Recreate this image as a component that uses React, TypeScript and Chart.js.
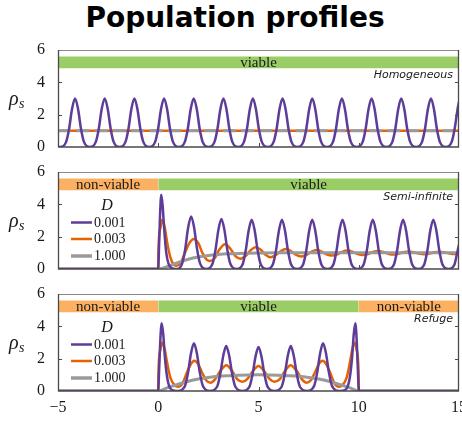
import React, { useEffect, useRef } from 'react';
import { Chart, registerables } from 'chart.js';

Chart.register(...registerables);

// ---------- shared axis values ----------
const X_MIN = -5;
const X_MAX = 15;
const Y_MIN = 0;
const Y_MAX = 6;
const X_TICKS = [-5, 0, 5, 10, 15];
const Y_TICKS = [0, 2, 4, 6];
const BAND_LOW = 4.87;
const BAND_HIGH = 5.6;
const LEGEND_TITLE = 'D';
const LEGEND_LABELS = ['0.001', '0.003', '1.000'];

// ---------- panel 1 : Homogeneous ----------
const homPurpleX = [
  -5, -4.89, -4.6, -4.45, -4.3, -4.15, -4.0, -3.85, -3.7, -3.41,
  -3.12, -2.97, -2.82, -2.67, -2.52, -2.37, -2.22, -1.93,
  -1.64, -1.49, -1.34, -1.19, -1.04, -0.89, -0.74, -0.45,
  -0.16, -0.01, 0.14, 0.29, 0.44, 0.59, 0.74, 1.03,
  1.32, 1.47, 1.62, 1.77, 1.92, 2.07, 2.22, 2.51,
  2.8, 2.95, 3.1, 3.25, 3.4, 3.55, 3.7, 3.99,
  4.27, 4.42, 4.57, 4.72, 4.87, 5.02, 5.17, 5.46,
  5.75, 5.9, 6.05, 6.2, 6.35, 6.5, 6.65, 6.94,
  7.23, 7.38, 7.53, 7.68, 7.83, 7.98, 8.13, 8.42,
  8.71, 8.86, 9.01, 9.16, 9.31, 9.46, 9.61, 9.9,
  10.19, 10.34, 10.49, 10.64, 10.79, 10.94, 11.09, 11.38,
  11.67, 11.82, 11.97, 12.12, 12.27, 12.42, 12.57, 12.86,
  13.15, 13.3, 13.45, 13.6, 13.75, 13.9, 14.05, 14.34,
  14.63, 14.78, 14.93, 15,
];
const homPurpleY = [
  0.02, 0, 0.3, 1.1, 2.35, 3, 2.35, 1.1, 0.3, 0,
  0.3, 1.1, 2.35, 3, 2.35, 1.1, 0.3, 0,
  0.3, 1.1, 2.35, 3, 2.35, 1.1, 0.3, 0,
  0.3, 1.1, 2.35, 3, 2.35, 1.1, 0.3, 0,
  0.3, 1.1, 2.35, 3, 2.35, 1.1, 0.3, 0,
  0.3, 1.1, 2.35, 3, 2.35, 1.1, 0.3, 0,
  0.3, 1.1, 2.35, 3, 2.35, 1.1, 0.3, 0,
  0.3, 1.1, 2.35, 3, 2.35, 1.1, 0.3, 0,
  0.3, 1.1, 2.35, 3, 2.35, 1.1, 0.3, 0,
  0.3, 1.1, 2.35, 3, 2.35, 1.1, 0.3, 0,
  0.3, 1.1, 2.35, 3, 2.35, 1.1, 0.3, 0,
  0.3, 1.1, 2.35, 3, 2.35, 1.1, 0.3, 0,
  0.3, 1.1, 2.35, 3, 2.35, 1.1, 0.3, 0,
  0.3, 1.1, 2.35, 2.8,
];
const homOrangeX = [-5, 15];
const homOrangeY = [1, 1];
const homGrayX = [-5, 15];
const homGrayY = [1, 1];
const homBandFrom = [-5];
const homBandTo = [15];
const homBandLabel = ['viable'];

// ---------- panel 2 : Semi-infinite ----------
const semiPurpleX = [
  -5, 0, 0.02, 0.08, 0.15, 0.22, 0.3, 0.4, 0.52, 0.75, 0.95,
  1.19, 1.34, 1.49, 1.64, 1.79, 1.94, 2.09, 2.4,
  2.7, 2.85, 3.0, 3.15, 3.3, 3.45, 3.6, 3.91,
  4.21, 4.36, 4.51, 4.66, 4.81, 4.96, 5.11, 5.42,
  5.72, 5.87, 6.02, 6.17, 6.32, 6.47, 6.62, 6.93,
  7.23, 7.38, 7.53, 7.68, 7.83, 7.98, 8.13, 8.44,
  8.74, 8.89, 9.04, 9.19, 9.34, 9.49, 9.64, 9.95,
  10.25, 10.4, 10.55, 10.7, 10.85, 11.0, 11.15, 11.46,
  11.76, 11.91, 12.06, 12.21, 12.36, 12.51, 12.66, 12.97,
  13.27, 13.42, 13.57, 13.72, 13.87, 14.02, 14.17, 14.48,
  14.78, 14.93, 15,
];
const semiPurpleY = [
  0, 0, 0.6, 3.0, 4.6, 3.9, 2.4, 1.0, 0.3, 0.02, 0,
  0.33, 1.2, 2.55, 3.25, 2.55, 1.2, 0.33, 0,
  0.31, 1.15, 2.42, 3.1, 2.42, 1.15, 0.31, 0,
  0.3, 1.13, 2.38, 3.05, 2.38, 1.13, 0.3, 0,
  0.3, 1.13, 2.38, 3.05, 2.38, 1.13, 0.3, 0,
  0.3, 1.13, 2.38, 3.05, 2.38, 1.13, 0.3, 0,
  0.3, 1.13, 2.38, 3.05, 2.38, 1.13, 0.3, 0,
  0.3, 1.13, 2.38, 3.05, 2.38, 1.13, 0.3, 0,
  0.3, 1.13, 2.38, 3.05, 2.38, 1.13, 0.3, 0,
  0.3, 1.13, 2.38, 3.05, 2.38, 1.13, 0.3, 0,
  0.3, 1.13, 1.5,
];
const semiOrangeX = [
  -5, 0, 0.005, 0.1, 0.2, 0.32, 0.45, 0.6, 0.75, 0.9,
  1.1, 1.35, 1.55, 1.77, 2.0, 2.2, 2.4, 2.58,
  2.8, 3.05, 3.33, 3.6, 3.85, 4.1,
  4.35, 4.6, 4.85, 5.1, 5.35, 5.6,
  5.85, 6.1, 6.37, 6.63, 6.88, 7.13,
  7.4, 7.65, 7.9, 8.15, 8.4, 8.66,
  8.92, 9.17, 9.43, 9.7, 9.95, 10.2,
  10.45, 10.7, 10.96, 11.22, 11.47, 11.72,
  11.98, 12.23, 12.49, 12.75, 13.0, 13.25,
  13.5, 13.76, 14.02, 14.28, 14.53, 14.78, 15,
];
const semiOrangeY = [
  0, 0, 0.9, 2.5, 3.04, 2.6, 1.6, 0.75, 0.3, 0.2,
  0.35, 1.05, 1.6, 1.86, 1.6, 1.0, 0.6, 0.5,
  0.65, 1.2, 1.53, 1.25, 0.8, 0.63,
  0.8, 1.15, 1.35, 1.2, 0.88, 0.72,
  0.85, 1.1, 1.24, 1.1, 0.87, 0.78,
  0.88, 1.08, 1.18, 1.08, 0.9, 0.83,
  0.9, 1.06, 1.14, 1.06, 0.92, 0.86,
  0.92, 1.05, 1.11, 1.05, 0.94, 0.89,
  0.94, 1.04, 1.09, 1.04, 0.95, 0.91,
  0.95, 1.03, 1.07, 1.03, 0.96, 0.93, 0.96,
];
const semiGrayX = [-5, 0, 0.25, 0.5, 0.75, 1.0, 1.5, 2.0, 2.5, 3.0, 3.5, 4.0, 5.0, 6.0, 15];
const semiGrayY = [0, 0, 0.06, 0.17, 0.29, 0.41, 0.6, 0.74, 0.84, 0.9, 0.94, 0.965, 0.99, 1.0, 1.0];
const semiBandFrom = [-5, 0];
const semiBandTo = [0, 15];
const semiBandLabel = ['non-viable', 'viable'];

// ---------- panel 3 : Refuge ----------
const refPurpleX = [
  -5, 0, 0.02, 0.09, 0.17, 0.25, 0.33, 0.45, 0.58, 0.8, 0.97,
  1.33, 1.48, 1.63, 1.78, 1.93, 2.08, 2.23, 2.58,
  2.94, 3.09, 3.24, 3.39, 3.54, 3.69, 3.84, 4.2,
  4.55, 4.7, 4.85, 5.0, 5.15, 5.3, 5.45, 5.8,
  6.16, 6.31, 6.46, 6.61, 6.76, 6.91, 7.06, 7.42,
  7.77, 7.92, 8.07, 8.22, 8.37, 8.52, 8.67, 9.03,
  9.2, 9.42, 9.55, 9.67, 9.75, 9.83, 9.91, 9.98, 10, 15,
];
const refPurpleY = [
  0, 0, 0.5, 2.8, 4.19, 3.5, 2.1, 0.8, 0.2, 0.02, 0,
  0.3, 1.09, 2.3, 2.95, 2.3, 1.09, 0.3, 0,
  0.28, 1.03, 2.17, 2.78, 2.17, 1.03, 0.28, 0,
  0.27, 1.0, 2.12, 2.72, 2.12, 1.0, 0.27, 0,
  0.28, 1.03, 2.17, 2.78, 2.17, 1.03, 0.28, 0,
  0.3, 1.09, 2.3, 2.95, 2.3, 1.09, 0.3, 0,
  0.02, 0.2, 0.8, 2.1, 3.5, 4.19, 2.8, 0.5, 0, 0,
];
const refOrangeX = [
  -5, 0, 0.005, 0.1, 0.2, 0.32, 0.45, 0.6, 0.8, 1.0,
  1.2, 1.45, 1.62, 1.8, 2.0, 2.2, 2.4, 2.6,
  2.85, 3.1, 3.4, 3.7, 3.95, 4.2,
  4.45, 4.7, 5.0, 5.3, 5.55, 5.8,
  6.05, 6.3, 6.6, 6.9, 7.15, 7.4,
  7.6, 7.8, 8.0, 8.2, 8.38, 8.55, 8.8, 9.0,
  9.2, 9.4, 9.55, 9.68, 9.8, 9.9, 9.995, 10, 15,
];
const refOrangeY = [
  0, 0, 0.9, 2.5, 3.0, 2.6, 1.7, 0.85, 0.38, 0.27,
  0.45, 1.2, 1.65, 1.87, 1.65, 1.1, 0.65, 0.51,
  0.75, 1.25, 1.6, 1.2, 0.72, 0.57,
  0.75, 1.2, 1.55, 1.2, 0.75, 0.57,
  0.72, 1.2, 1.6, 1.25, 0.75, 0.51,
  0.65, 1.1, 1.65, 1.87, 1.65, 1.2, 0.45, 0.27,
  0.38, 0.85, 1.7, 2.6, 3.0, 2.5, 0.9, 0, 0,
];
const refGrayX = [-5, 0, 0.5, 1.0, 1.5, 2.0, 2.5, 3.0, 3.5, 4.0, 5.0, 6.0, 6.5, 7.0, 7.5, 8.0, 8.5, 9.0, 9.5, 10, 15];
const refGrayY = [0, 0, 0.22, 0.42, 0.6, 0.74, 0.84, 0.91, 0.95, 0.98, 1.0, 0.98, 0.95, 0.91, 0.84, 0.74, 0.6, 0.42, 0.22, 0, 0];
const refBandFrom = [-5, 0, 10];
const refBandTo = [0, 10, 15];
const refBandLabel = ['non-viable', 'viable', 'non-viable'];

// ---------- styles ----------
const PURPLE = '#5e3c99';
const ORANGE = '#e66101';
const GRAY = '#9a9a9a';
const BAND_GREEN = '#9bcd66';
const BAND_ORANGE = '#fcb162';
const SERIF = '"Liberation Serif", "DejaVu Serif", serif';
const SANS = '"DejaVu Sans", sans-serif';
const TEXT = '#1a1a1a';

type PanelCfg = {
  name: string;
  purple: [number[], number[]];
  orange: [number[], number[]];
  gray: [number[], number[]];
  bandFrom: number[];
  bandTo: number[];
  bandLabel: string[];
  legend: boolean;
  bottom: boolean;
  grayDash?: number[];
};

const PANELS: PanelCfg[] = [
  {
    name: 'Homogeneous',
    purple: [homPurpleX, homPurpleY],
    orange: [homOrangeX, homOrangeY],
    gray: [homGrayX, homGrayY],
    bandFrom: homBandFrom, bandTo: homBandTo, bandLabel: homBandLabel,
    legend: false, bottom: false, grayDash: [13, 5.3],
  },
  {
    name: 'Semi-infinite',
    purple: [semiPurpleX, semiPurpleY],
    orange: [semiOrangeX, semiOrangeY],
    gray: [semiGrayX, semiGrayY],
    bandFrom: semiBandFrom, bandTo: semiBandTo, bandLabel: semiBandLabel,
    legend: true, bottom: false,
  },
  {
    name: 'Refuge',
    purple: [refPurpleX, refPurpleY],
    orange: [refOrangeX, refOrangeY],
    gray: [refGrayX, refGrayY],
    bandFrom: refBandFrom, bandTo: refBandTo, bandLabel: refBandLabel,
    legend: true, bottom: true,
  },
];

const pts = (xs: number[], ys: number[]) => xs.map((x, i) => ({ x, y: ys[i] }));

const zeroPad = (s: any) => {
  s.paddingTop = 0;
  s.paddingBottom = 0;
  s.paddingLeft = 0;
  s.paddingRight = 0;
};

function makeDecor(cfg: PanelCfg) {
  return {
    id: 'decor',
    afterDatasetsDraw(chart: any) {
      const { ctx, chartArea: a, scales } = chart;
      const xs = scales.x;
      const ys = scales.y;
      ctx.save();
      // band labels
      ctx.fillStyle = TEXT;
      ctx.font = `15px ${SERIF}`;
      ctx.textAlign = 'center';
      ctx.textBaseline = 'middle';
      const bandMid = ys.getPixelForValue((BAND_LOW + BAND_HIGH) / 2);
      cfg.bandFrom.forEach((f, i) => {
        const cx = (xs.getPixelForValue(f) + xs.getPixelForValue(cfg.bandTo[i])) / 2;
        ctx.fillText(cfg.bandLabel[i], cx, bandMid + 0.5);
      });
      // frame
      ctx.lineWidth = 1;
      ctx.strokeStyle = '#8a8a8a';
      ctx.beginPath();
      ctx.moveTo(a.left, a.top + 0.5);
      ctx.lineTo(a.right, a.top + 0.5);
      ctx.stroke();
      ctx.strokeStyle = '#4a4a4a';
      ctx.lineWidth = 1.3;
      ctx.beginPath();
      ctx.moveTo(a.left + 0.5, a.top);
      ctx.lineTo(a.left + 0.5, a.bottom);
      ctx.lineTo(a.right - 0.5, a.bottom);
      ctx.lineTo(a.right - 0.5, a.top);
      ctx.stroke();
      // inward ticks
      ctx.lineWidth = 1;
      ctx.beginPath();
      X_TICKS.forEach((v) => {
        if (v <= X_MIN || v >= X_MAX) return;
        const px = Math.round(xs.getPixelForValue(v)) + 0.5;
        ctx.moveTo(px, a.bottom);
        ctx.lineTo(px, a.bottom - 4);
      });
      Y_TICKS.forEach((v) => {
        if (v <= Y_MIN || v >= Y_MAX) return;
        const py = Math.round(ys.getPixelForValue(v)) + 0.5;
        ctx.moveTo(a.left, py);
        ctx.lineTo(a.left + 4, py);
        ctx.moveTo(a.right, py);
        ctx.lineTo(a.right - 4, py);
      });
      ctx.stroke();
      // panel name
      ctx.font = `italic 11px ${SANS}`;
      ctx.textAlign = 'right';
      ctx.fillStyle = TEXT;
      ctx.fillText(cfg.name, a.right - 6, ys.getPixelForValue(4.42));
      // y label rho_s
      const cy = (a.top + a.bottom) / 2 + 2;
      ctx.textAlign = 'left';
      ctx.textBaseline = 'alphabetic';
      ctx.font = `italic 20px ${SERIF}`;
      ctx.fillText('ρ', 9, cy + 4);
      ctx.font = `italic 14px ${SERIF}`;
      ctx.fillText('s', 19, cy + 7);
      // legend
      if (cfg.legend) {
        ctx.textBaseline = 'middle';
        ctx.textAlign = 'center';
        ctx.font = `italic 16px ${SERIF}`;
        ctx.fillText(LEGEND_TITLE, 107, a.top + 33.5);
        const cols = [PURPLE, ORANGE, GRAY];
        const widths = [2.5, 2.5, 3.5];
        const offs = [50.5, 67, 84];
        ctx.textAlign = 'left';
        ctx.font = `14px ${SERIF}`;
        LEGEND_LABELS.forEach((lab, i) => {
          const yy = a.top + offs[i];
          ctx.strokeStyle = cols[i];
          ctx.lineWidth = widths[i];
          ctx.beginPath();
          ctx.moveTo(71, yy);
          ctx.lineTo(92, yy);
          ctx.stroke();
          ctx.fillStyle = TEXT;
          ctx.fillText(lab, 94, yy + 0.5);
        });
      }
      // x axis label
      if (cfg.bottom) {
        ctx.textAlign = 'center';
        ctx.textBaseline = 'middle';
        ctx.font = `italic 18px ${SERIF}`;
        ctx.fillStyle = TEXT;
        ctx.fillText('x', xs.getPixelForValue(5), 430);
      }
      ctx.restore();
    },
  };
}

function Panel({ cfg, top, height }: { cfg: PanelCfg; top: number; height: number }) {
  const ref = useRef<HTMLCanvasElement>(null);
  useEffect(() => {
    const bands = cfg.bandFrom.map((f, i) => ({
      data: [{ x: f, y: BAND_HIGH }, { x: cfg.bandTo[i], y: BAND_HIGH }],
      fill: { value: BAND_LOW },
      backgroundColor: cfg.bandLabel[i] === 'viable' ? BAND_GREEN : BAND_ORANGE,
      borderWidth: 0,
      borderColor: 'rgba(0,0,0,0)',
      order: 10,
    }));
    const chart = new Chart(ref.current as HTMLCanvasElement, {
      type: 'line',
      data: {
        datasets: [
          {
            data: pts(cfg.purple[0], cfg.purple[1]),
            borderColor: PURPLE, borderWidth: 2.5, order: 1, fill: false,
          },
          {
            data: pts(cfg.gray[0], cfg.gray[1]),
            borderColor: GRAY, borderWidth: 3, order: 2, fill: false,
            borderDash: cfg.grayDash || [],
          },
          {
            data: pts(cfg.orange[0], cfg.orange[1]),
            borderColor: ORANGE, borderWidth: 2.5, order: 3, fill: false,
          },
          ...bands,
        ] as any,
      },
      options: {
        animation: false,
        responsive: false,
        devicePixelRatio: 1,
        layout: { padding: { top: 10, right: 3, bottom: cfg.bottom ? 0 : 10, left: 0 }, autoPadding: false },
        plugins: { legend: { display: false }, tooltip: { enabled: false } },
        elements: {
          point: { radius: 0 },
          line: { cubicInterpolationMode: 'monotone', borderCapStyle: 'butt', borderJoinStyle: 'round' },
        },
        scales: {
          x: {
            type: 'linear',
            min: X_MIN,
            max: X_MAX,
            display: cfg.bottom,
            grid: { display: false, drawTicks: false },
            border: { display: false },
            afterBuildTicks: (s: any) => { s.ticks = X_TICKS.map((v) => ({ value: v })); },
            afterFit: (s: any) => {
              s.height = cfg.bottom ? 48 : 0;
              zeroPad(s);
            },
            ticks: {
              autoSkip: false,
              maxRotation: 0,
              padding: 7,
              color: TEXT,
              font: { family: SERIF, size: 16 },
              callback: (v: any) => String(v).replace('-', '\u2212'),
            },
          },
          y: {
            type: 'linear',
            min: Y_MIN,
            max: Y_MAX,
            grid: { display: false, drawTicks: false },
            border: { display: false },
            afterBuildTicks: (s: any) => { s.ticks = Y_TICKS.map((v) => ({ value: v })); },
            afterFit: (s: any) => {
              s.width = 58;
              zeroPad(s);
            },
            ticks: { padding: 13, color: TEXT, font: { family: SERIF, size: 16 } },
          },
        },
      } as any,
      plugins: [makeDecor(cfg)],
    });
    return () => chart.destroy();
  }, [cfg]);
  return (
    <canvas
      ref={ref}
      width={462}
      height={height}
      style={{ position: 'absolute', left: 0, top, width: 462, height }}
    />
  );
}

export default function App() {
  return (
    <div style={{ position: 'absolute', left: 0, top: 0, width: 462, height: 439, background: '#fff', overflow: 'hidden' }}>
      <div
        style={{
          position: 'absolute', left: 4, top: 2, width: 462, textAlign: 'center',
          font: `bold 28px ${SANS}`, lineHeight: '32px', color: '#000',
        }}
      >
        Population profiles
      </div>
      <Panel cfg={PANELS[0]} top={40} height={117} />
      <Panel cfg={PANELS[1]} top={162} height={117} />
      <Panel cfg={PANELS[2]} top={284} height={155} />
    </div>
  );
}
